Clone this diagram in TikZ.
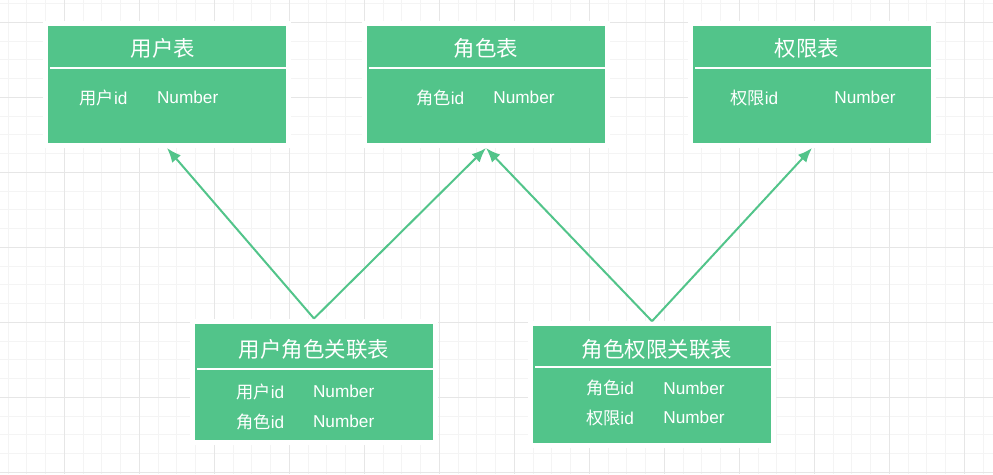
\documentclass[tikz,border=0pt]{standalone}
\usepackage{fontspec}
\setmainfont{Liberation Sans}
\newfontfamily\cjk{Noto Sans CJK SC}
\usetikzlibrary{arrows.meta}

\definecolor{tablegreen}{RGB}{82,196,138}
\definecolor{gridminor}{RGB}{244,244,244}
\definecolor{gridmajor}{RGB}{230,230,230}

\tikzset{
  table/.style={rectangle, fill=tablegreen, inner sep=0pt, outer sep=0.1cm,
    minimum width=4.76cm, minimum height=2.34cm,
    preaction={draw=white, line width=0.2cm}},
  tabletitle/.style={text=white, inner sep=0pt, font=\cjk\fontsize{12.2}{14}\selectfont},
  field/.style={anchor=west, text=white, inner sep=0pt, font=\fontsize{9.8}{12}\selectfont},
  sepline/.style={draw=white, line width=0.045cm},
  link/.style={draw=tablegreen, line width=0.04cm, -{Latex[length=0.29cm, width=0.23cm]}},
}

\begin{document}
\begin{tikzpicture}[x=0.02cm, y=-0.02cm]
    \useasboundingbox (0,0) rectangle (993,474);

    % grid
    \foreach \i in {0,...,52}
      \draw[gridminor, line width=0.02cm] ({8.05+18.75*\i},0) -- ({8.05+18.75*\i},474);
    \foreach \i in {0,...,25}
      \draw[gridminor, line width=0.02cm] (0,{3.55+18.75*\i}) -- (993,{3.55+18.75*\i});
    \foreach \i in {0,...,12}
      \draw[gridmajor, line width=0.02cm] ({64.3+75*\i},0) -- ({64.3+75*\i},474);
    \foreach \i in {0,...,6}
      \draw[gridmajor, line width=0.02cm] (0,{22.3+75*\i}) -- (993,{22.3+75*\i});

    % tables
    \node[table] (user) at (167,84.5) {};
    \node[tabletitle] (user-title) at (163,48) {用户表};
    \draw[sepline] (50,68.3) -- (286,68.3);
    \node[field] (user-id) at (79.3,97.7) {{\cjk 用户}id};
    \node[field] (user-type) at (156.7,97.7) {Number};

    \node[table] (role) at (486,84.5) {};
    \node[tabletitle] (role-title) at (486,48) {角色表};
    \draw[sepline] (369,68.3) -- (605,68.3);
    \node[field] (role-id) at (416,97.7) {{\cjk 角色}id};
    \node[field] (role-type) at (493,97.7) {Number};

    \node[table] (perm) at (812,84.5) {};
    \node[tabletitle] (perm-title) at (807,48) {权限表};
    \draw[sepline] (695,68.3) -- (931,68.3);
    \node[field] (perm-id) at (730,97.7) {{\cjk 权限}id};
    \node[field] (perm-type) at (834,97.7) {Number};

    \node[table] (ur) at (314,382) {};
    \node[tabletitle] (ur-title) at (314,349.3) {用户角色关联表};
    \draw[sepline] (197,368.7) -- (433,368.7);
    \node[field] (ur-user) at (236,391.7) {{\cjk 用户}id};
    \node[field] (ur-user-type) at (312.7,391.7) {Number};
    \node[field] (ur-role) at (236,421.7) {{\cjk 角色}id};
    \node[field] (ur-role-type) at (312.7,421.7) {Number};

    \node[table] (rp) at (652,384.7) {};
    \node[tabletitle] (rp-title) at (657,349.3) {角色权限关联表};
    \draw[sepline] (535,366.7) -- (771,366.7);
    \node[field] (rp-role) at (585.7,388.3) {{\cjk 角色}id};
    \node[field] (rp-role-type) at (663,388.3) {Number};
    \node[field] (rp-perm) at (585.7,417.7) {{\cjk 权限}id};
    \node[field] (rp-perm-type) at (663,417.7) {Number};

    % links
    \draw[link] (ur.north) -- (user.south);
    \draw[link] (ur.north) -- (role.south);
    \draw[link] (rp.north) -- (role.south);
    \draw[link] (rp.north) -- (perm.south);
\end{tikzpicture}
\end{document}
